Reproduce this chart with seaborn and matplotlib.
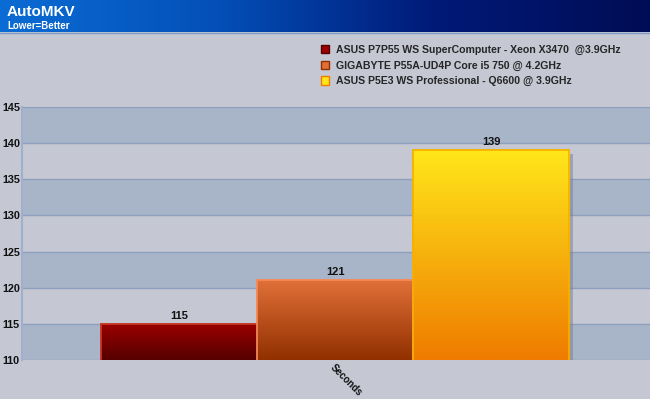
import numpy as np
import pandas as pd
import matplotlib
matplotlib.use("Agg")
import matplotlib.pyplot as plt
import matplotlib.patheffects as pe
from matplotlib.colors import LinearSegmentedColormap
from matplotlib.patches import Patch
import seaborn as sns

# ---- data ----
categories = ["Seconds"]
series = [
    "ASUS P7P55 WS SuperComputer - Xeon X3470  @3.9GHz",
    "GIGABYTE P55A-UD4P Core i5 750 @ 4.2GHz",
    "ASUS P5E3 WS Professional - Q6600 @ 3.9GHz",
]
values = [115, 121, 139]
yticks = [110, 115, 120, 125, 130, 135, 140, 145]
title = "AutoMKV"
subtitle = "Lower=Better"

# styles
tops = ["#9c0000", "#e07038", "#ffe61a"]
bottoms = ["#560000", "#923000", "#ef7c00"]
edges = ["#c83a2a", "#f58a5a", "#f5b000"]
bg = "#c5c7d3"
band = "#a8b5c9"
gridc = "#8d9fbd"

sns.set_theme(style="white")
plt.rcParams["font.family"] = ["Liberation Sans", "DejaVu Sans"]
plt.rcParams["font.weight"] = "bold"

W, H = 650, 399
fig = plt.figure(figsize=(W / 100, H / 100), dpi=100, facecolor=bg)

# header bar
hax = fig.add_axes([0, 1 - 32 / H, 1, 32 / H])
grad = np.linspace(0, 1, 256).reshape(1, -1)
hcmap = LinearSegmentedColormap.from_list("h", ["#0a6cd4", "#0450b8", "#001a78", "#000c55"])
hax.imshow(grad, aspect="auto", cmap=hcmap, extent=[0, 1, 0, 1])
hax.set_xlim(0, 1); hax.set_ylim(0, 1); hax.axis("off")
hax.text(7 / W, 0.63, title, color="white", fontsize=11, fontweight="bold", va="center", ha="left",
         transform=hax.transAxes)
hax.text(7 / W, 0.2, subtitle, color="white", fontsize=7, fontweight="bold", va="center", ha="left",
         transform=hax.transAxes)
fig.add_artist(plt.Line2D([0, 1], [1 - 32.5 / H, 1 - 32.5 / H], color="#7d9cc8", lw=1, transform=fig.transFigure))

# main axes
left, right, top, bottom = 22, 650, 107, 360
ax = fig.add_axes([left / W, 1 - bottom / H, (right - left) / W, (bottom - top) / H])
ax.set_facecolor(bg)

df = pd.DataFrame({"cat": categories * len(series), "series": series, "value": values})
sns.barplot(data=df, x="cat", y="value", hue="series", palette=tops, ax=ax, width=0.8,
            legend=True, zorder=3)

ax.set_ylim(yticks[0], yticks[-1])
ax.set_xlim(-0.535, 0.538)
for lo in range(0, len(yticks) - 1, 2):
    ax.axhspan(yticks[lo], yticks[lo + 1], color=band, zorder=0, lw=0)
for t in yticks:
    ax.axhline(t, color=gridc, lw=1, zorder=1)

# gradients in bars
bars = [p for p in ax.patches if p.get_height() > 0 and p.get_width() < 1][:len(values)]
for i, p in enumerate(bars):
    x0, y0 = p.get_x(), p.get_y()
    w, h = p.get_width(), p.get_height()
    cm = LinearSegmentedColormap.from_list(f"b{i}", [bottoms[i], tops[i]])
    p.set_edgecolor(edges[i]); p.set_linewidth(1.2)
    p.set_path_effects([pe.SimplePatchShadow(offset=(2.5, -2.5), shadow_rgbFace="#7a7f8c", alpha=0.5), pe.Normal()])
    im = ax.imshow(np.linspace(0, 1, 100).reshape(-1, 1), cmap=cm, aspect="auto", origin="lower",
                   extent=[x0, x0 + w, ax.get_ylim()[0], y0 + h], zorder=3.5)
    im.set_clip_path(p)
    ax.text(x0 + w / 2, y0 + h + 0.45, f"{values[i]}", ha="center", va="bottom", fontsize=8,
            fontweight="bold", color="#111111", zorder=5)
    ax.add_patch(plt.Rectangle((x0, y0), w, h, fill=False, edgecolor=edges[i], lw=1.2, zorder=4))
ax.set_ylim(yticks[0], yticks[-1])
ax.set_xlim(-0.535, 0.538)

ax.set_yticks(yticks)
ax.set_yticklabels([str(t) for t in yticks], fontsize=7.8, fontweight="bold", color="#111111")
ax.tick_params(axis="y", length=0, pad=1.5)
ax.tick_params(axis="x", length=0, pad=2)
ax.set_xticks([0])
ax.set_xticklabels(categories, rotation=-45, ha="left", va="top", rotation_mode="anchor",
                   fontsize=7, fontweight="bold", color="#111111")
ax.set_xlabel(""); ax.set_ylabel("")
for s in ["top", "right", "bottom"]:
    ax.spines[s].set_visible(False)
ax.spines["left"].set_color("#9fb0cc")
ax.spines["left"].set_linewidth(1.5)

# legend
leg = ax.get_legend()
leg.remove()
hs = [Patch(facecolor=tops[i], edgecolor=bottoms[i], lw=1) for i in range(len(series))]
fig.legend(hs, series, loc="upper left", bbox_to_anchor=(311 / W, 1 - 35 / H), frameon=False,
           handlelength=0.85, handleheight=0.85, handletextpad=0.6, labelspacing=0.55,
           prop={"weight": "bold", "size": 7.6})

fig.savefig("out.png", dpi=100, facecolor=bg)
